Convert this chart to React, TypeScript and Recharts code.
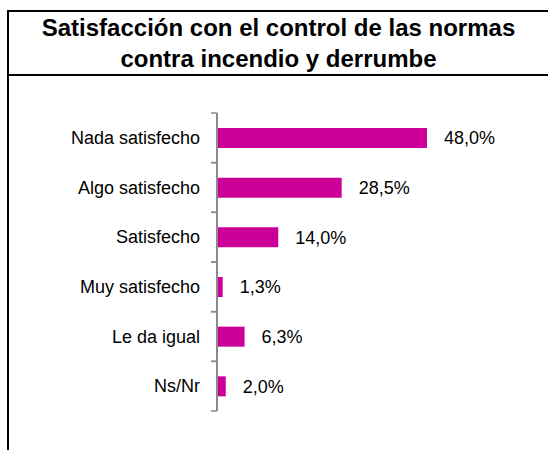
import React from "react";
import { BarChart, Bar, XAxis, YAxis, LabelList } from "recharts";

const categories = [
  "Nada satisfecho",
  "Algo satisfecho",
  "Satisfecho",
  "Muy satisfecho",
  "Le da igual",
  "Ns/Nr",
];
const values = [48.0, 28.5, 14.0, 1.3, 6.3, 2.0];
const titleLines = [
  "Satisfacción con el control de las normas",
  "contra incendio y derrumbe",
];

const data = categories.map((name, i) => ({ name, value: values[i] }));

const FONT = "'Liberation Sans', Arial, sans-serif";
const PLOT_TOP = 113;
const PLOT_BOTTOM = 411;
const AXIS_X = 217;
const AXIS_COLOR = "#8a8a8a";

const fmt = (v: number) => v.toFixed(1).replace(".", ",") + "%";

const CategoryTick = (props: any) => {
  const { y, payload } = props;
  const band = (PLOT_BOTTOM - PLOT_TOP) / categories.length;
  return (
    <g>
      <line x1={AXIS_X - 6} x2={AXIS_X} y1={y - band / 2} y2={y - band / 2} stroke={AXIS_COLOR} strokeWidth={1.5} />
      <line x1={AXIS_X - 6} x2={AXIS_X} y1={y + band / 2} y2={y + band / 2} stroke={AXIS_COLOR} strokeWidth={1.5} />
      <text x={AXIS_X - 17} y={y} dy={6} textAnchor="end" fontSize={18} fontFamily={FONT} fill="#000">
        {payload.value}
      </text>
    </g>
  );
};

export default function App() {
  return (
    <div style={{ position: "absolute", left: 0, top: 0, width: 548, height: 450, overflow: "hidden", background: "#fff" }}>
      <div style={{ position: "absolute", left: 7, top: 10, width: 541, height: 2, background: "#000" }} />
      <div style={{ position: "absolute", left: 7, top: 10, width: 2, height: 440, background: "#000" }} />
      <div style={{ position: "absolute", left: 7, top: 74, width: 541, height: 2, background: "#000" }} />
      <div
        style={{
          position: "absolute",
          left: 9,
          top: 12,
          width: 539,
          height: 62,
          lineHeight: "31px",
          fontSize: 24,
          fontWeight: "bold",
          fontFamily: FONT,
          textAlign: "center",
          color: "#000",
        }}
      >
        {titleLines.map((t) => (
          <div key={t}>{t}</div>
        ))}
      </div>
      <div style={{ position: "absolute", left: 0, top: 0 }}>
        <BarChart
          width={548}
          height={450}
          layout="vertical"
          data={data}
          margin={{ top: PLOT_TOP, bottom: 450 - PLOT_BOTTOM, left: 0, right: 68.5 }}
          barSize={20}
        >
          <XAxis type="number" domain={[0, 60]} hide />
          <YAxis
            type="category"
            dataKey="name"
            width={AXIS_X}
            axisLine={{ stroke: AXIS_COLOR, strokeWidth: 2 }}
            tickLine={false}
            tickSize={0}
            tickMargin={0}
            tick={<CategoryTick />}
            interval={0}
          />
          <Bar dataKey="value" fill="#CC0099" isAnimationActive={false}>
            <LabelList
              dataKey="value"
              position="right"
              offset={17}
              formatter={(v: any) => fmt(Number(v))}
              style={{ fontSize: 18, fontFamily: FONT, fill: "#000" }}
            />
          </Bar>
        </BarChart>
      </div>
    </div>
  );
}
